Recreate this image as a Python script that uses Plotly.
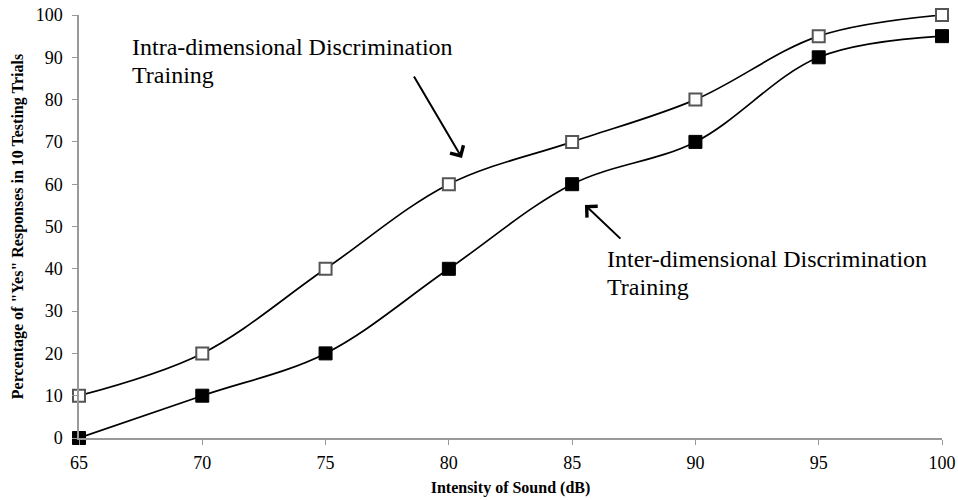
import plotly.graph_objs as go

# data
intensity = [65, 70, 75, 80, 85, 90, 95, 100]
intra_pct = [10, 20, 40, 60, 70, 80, 95, 100]
inter_pct = [0, 10, 20, 40, 60, 70, 90, 95]

serif = "Liberation Serif, Times New Roman, serif"

traces = [
    go.Scatter(
        x=intensity, y=intra_pct, mode="lines+markers",
        name="Intra-dimensional Discrimination Training",
        line=dict(color="black", width=1.7, shape="spline", smoothing=1.0),
        marker=dict(symbol="square", size=12, color="white",
                    line=dict(color="#555555", width=2)),
        cliponaxis=False,
    ),
    go.Scatter(
        x=intensity, y=inter_pct, mode="lines+markers",
        name="Inter-dimensional Discrimination Training",
        line=dict(color="black", width=1.7, shape="spline", smoothing=1.0),
        marker=dict(symbol="square", size=13, color="black",
                    line=dict(color="black", width=1)),
        cliponaxis=False,
    ),
]

layout = go.Layout(
    width=958, height=500,
    margin=dict(l=79, r=16, t=15, b=62, autoexpand=False),
    paper_bgcolor="white", plot_bgcolor="white",
    showlegend=False,
    font=dict(family=serif, color="black"),
    xaxis=dict(
        range=[65, 100], tickvals=intensity, showgrid=False, zeroline=False,
        showline=True, linecolor="#999999", linewidth=1.5,
        ticks="outside", ticklen=5, tickcolor="#999999",
        ticklabelstandoff=3,
        tickfont=dict(size=18, family=serif),
        title=dict(text="<b>Intensity of Sound (dB)</b>",
                   font=dict(size=16, family=serif), standoff=9),
    ),
    yaxis=dict(
        range=[0, 100], dtick=10, showgrid=False, zeroline=False,
        showline=True, linecolor="#999999", linewidth=1.5,
        ticks="outside", ticklen=5, tickcolor="#999999",
        ticklabelstandoff=6,
        tickfont=dict(size=18, family=serif),
        title=dict(text='<b>Percentage of "Yes" Responses in 10 Testing Trials</b>',
                   font=dict(size=16, family=serif), standoff=8),
    ),
)

text_font = dict(size=24, family=serif)
annotations = [
    dict(x=67.07, y=92.4, text="Intra-dimensional Discrimination"),
    dict(x=67.07, y=85.8, text="Training"),
    dict(x=86.33, y=42.3, text="Inter-dimensional Discrimination"),
    dict(x=86.33, y=35.7, text="Training"),
]
arrows = [
    dict(x=80.53, y=66.2, ax=78.55, ay=85.8),
    dict(x=85.52, y=55.1, ax=87.02, ay=46.8),
]

fig = go.Figure(data=traces, layout=layout)
for annotation in annotations:
    fig.add_annotation(xref="x", yref="y", xanchor="left", yanchor="middle",
                       showarrow=False, font=text_font, **annotation)
for arrow in arrows:
    fig.add_annotation(xref="x", yref="y", axref="x", ayref="y", text="",
                       showarrow=True, arrowhead=4, arrowsize=1.5, arrowwidth=2,
                       arrowcolor="black", **arrow)

# drop the default body margin and scrollbars so the figure fills the window
page_js = ("document.body.style.margin='0';"
           "document.body.style.overflow='hidden';"
           "document.documentElement.style.overflow='hidden';")
fig.write_html("out.html", config={"displayModeBar": False}, post_script=page_js)
